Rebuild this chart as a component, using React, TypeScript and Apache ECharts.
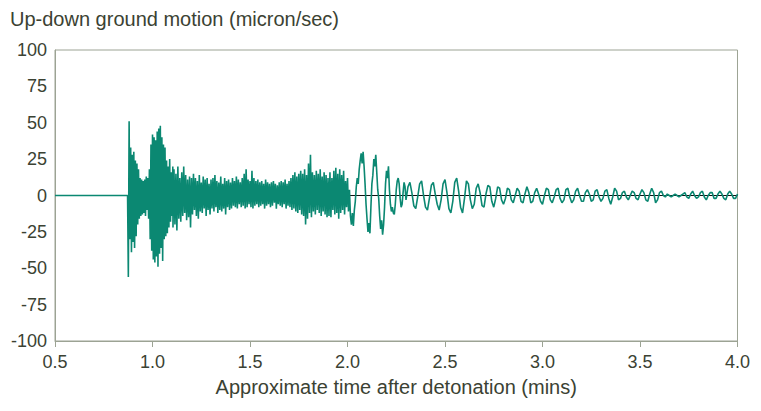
import React, { useEffect, useRef } from "react";
import * as echarts from "echarts";

// ---- data (minutes, micron/sec) ----
const xTicks = [0.5, 1.0, 1.5, 2.0, 2.5, 3.0, 3.5, 4.0];
const yTicks = [-100, -75, -50, -25, 0, 25, 50, 75, 100];

// quiet period before the first arrival
const quietTimes = [0.5, 0.872];
const quietValues = [0, 0];

// first arrivals, sampled every 0.004 min from 0.872
const burstStart = 0.872;
const burstStep = 0.004;
const burstValues = [
  0, -56, 51, -30, 33, -39, 28, -32, 30, -36,
  24, -28, 22, -20, 18, -16, 12, -14, 11, -13,
  10, -12, 11, -14, 13, -10, 12, -16, 18, -30,
  35, -38, 42, -44, 40, -46, 38, -42, 44, -49,
  46, -40, 48, -36, 40, -45, 35, -30, 33, -28,
  24, -26, 20, -22, 25, -18, 16, -14, 20,
];

// coda, sampled every 0.005 min from 1.105
const codaStart = 1.105;
const codaStep = 0.005;
const codaValues = [
  -22, 18, -20, 15, -24, 20, -16, 12, -18, 16,
  -14, 20, -12, 14, -17, 11, -15, 13, -22, 12,
  -13, 15, -10, 12, -14, 10, -16, 14, -11, 9,
  -12, 13, -9, 11, -14, 12, -10, 8, -13, 11,
  -9, 12, -11, 14, -8, 10, -12, 9, -10, 13,
  -11, 8, -9, 12, -13, 10, -8, 11, -10, 9,
  -9, 12, -7, 10, -8, 13, -9, 11, -6, 9,
  -8, 12, -7, 15, -9, 18, -8, 11, -6, 10,
  -8, 17, -9, 12, -7, 10, -6, 11, -8, 9,
  -7, 10, -6, 8, -9, 11, -7, 9, -6, 8,
  -8, 9, -7, 10, -5, 8, -9, 7, -6, 9,
  -7, 10, -8, 9, -6, 11, -9, 8, -7, 10,
  -8, 12, -10, 14, -9, 16, -11, 13, -12, 15,
  -10, 17, -13, 15, -14, 18, -20, 14, -16, 22,
  -12, 28, -15, 16, -11, 14, -13, 17, -10, 15,
  -12, 18, -14, 13, -11, 16, -13, 14, -15, 12,
  -14, 16, -15, 12, -10, 17, -13, 19, -12, 15,
  -16, 18,
];

// surface waves, sampled every 0.005 min from 1.965
const surfaceStart = 1.965;
const surfaceStep = 0.005;
const surfaceValues = [
  -12, 14, -10, 17, -13, 10, -8, 12, -11, 4,
  -14, -20, -12, -21, -10, -4, 6, 12, 8, 18,
  24, 29, 22, 30, 20, 8, -6, -16, -25, -19,
  -26, -8, 8, 14, 25, 20, 28, 16, 4, -2,
  -14, -23, -17, -27, -20, -8, 8, 17, 12, 20,
  4, -6, -11, -8, -12, -13, -6, 4, 10, 12,
  8, -2, -8, -6, 2, 9, 6, -3,
];

// late tail, sampled every 0.01 min from 2.31
const tailStart = 2.31;
const tailStep = 0.01;
const tailValues = [
  6, 9, 2, -7, -9, -1, 8, 10, 0, -8,
  -10, -2, 7, 9, 1, -6, -10, -3, 8, 11,
  2, -9, -12, -4, 9, 12, 3, -8, -12, -2,
  10, 8, -3, -9, -6, 5, 8, 2, -7, -8,
  1, 7, 6, -4, -8, -2, 6, 5, -3, -6,
  -2, 5, 4, -3, -5, 0, 5, 3, -4, -5,
  1, 6, 2, -5, -4, 2, 5, 1, -4, -6,
  0, 5, 4, -3, -5, -1, 4, 5, -2, -5,
  -3, 4, 5, -1, -5, -3, 3, 5, 0, -4,
  -4, 2, 4, 1, -4, -3, 3, 4, -1, -4,
  -2, 3, 4, -2, -6, -1, 5, 3, -3, -2,
  2, 3, -1, -3, 0, 3, 2, -2, -3, 1,
  4, 2, -3, -4, 1, 5, 2, -5, -3, 2,
  3, 0, -1, 1, 0, -1, 0, 1, 0, -1,
  0, 1, 2, -1, -2, 1, 3, 0, -2, -1,
  2, 3, -1, -3, 0, 2, 2, -2, -2, 1,
  3, 1, -2, -3, 1, 3, 1, -2, -2, 1,
];

const sampled = (start: number, step: number, vals: number[]) =>
  vals.map((v, i) => [Number((start + step * i).toFixed(4)), v]);

const TEXT = "#3b4233";
const FRAME = "#9ca394";
const WAVE = "#0b8872";
const FONT = "'Liberation Sans', Arial, Helvetica, sans-serif";

export default function App() {
  const ref = useRef<HTMLDivElement>(null);
  useEffect(() => {
    if (!ref.current) return;
    const chart = echarts.init(ref.current, undefined, { renderer: "svg" });
    const wave = [
      ...quietTimes.map((t, i) => [t, quietValues[i]]),
      ...sampled(burstStart, burstStep, burstValues).slice(1),
      ...sampled(codaStart, codaStep, codaValues),
      ...sampled(surfaceStart, surfaceStep, surfaceValues),
      ...sampled(tailStart, tailStep, tailValues),
    ];
    const xMin = xTicks[0];
    const xMax = xTicks[xTicks.length - 1];
    chart.setOption({
      animation: false,
      backgroundColor: "#ffffff",
      textStyle: { fontFamily: FONT },
      title: {
        text: "Up-down ground motion (micron/sec)",
        left: -3,
        top: -4,
        textStyle: { fontFamily: FONT, fontSize: 20, fontWeight: "normal", color: TEXT },
      },
      grid: {
        left: 43,
        right: 9,
        top: 42,
        bottom: 53,
        show: true,
        borderColor: FRAME,
        borderWidth: 1,
        backgroundColor: "transparent",
      },
      xAxis: {
        type: "value",
        min: xMin,
        max: xMax,
        interval: 0.5,
        name: "Approximate time after detonation (mins)",
        nameLocation: "middle",
        nameGap: 36,
        nameTextStyle: { fontFamily: FONT, fontSize: 20, color: TEXT },
        axisLine: { show: true, onZero: false, lineStyle: { color: FRAME, width: 1 } },
        axisTick: { show: true, inside: false, length: 6, lineStyle: { color: FRAME } },
        axisLabel: {
          fontFamily: FONT,
          fontSize: 18,
          color: TEXT,
          margin: 12,
          formatter: (v: number) => v.toFixed(1),
        },
        splitLine: { show: false },
      },
      yAxis: {
        type: "value",
        min: yTicks[0],
        max: yTicks[yTicks.length - 1],
        interval: 25,
        axisLine: { show: true, lineStyle: { color: FRAME, width: 1 } },
        axisTick: { show: false },
        axisLabel: { fontFamily: FONT, fontSize: 18, color: TEXT, margin: 8 },
        splitLine: { show: false },
      },
      series: [
        {
          type: "line",
          data: [
            [xMin, 0],
            [xMax, 0],
          ],
          showSymbol: false,
          silent: true,
          z: 1,
          lineStyle: { color: "#111111", width: 1 },
        },
        {
          type: "line",
          data: wave,
          showSymbol: false,
          silent: true,
          z: 2,
          lineStyle: { color: WAVE, width: 1.6 },
        },
      ],
    });
    return () => chart.dispose();
  }, []);
  return <div ref={ref} style={{ width: 745, height: 394 }} />;
}
